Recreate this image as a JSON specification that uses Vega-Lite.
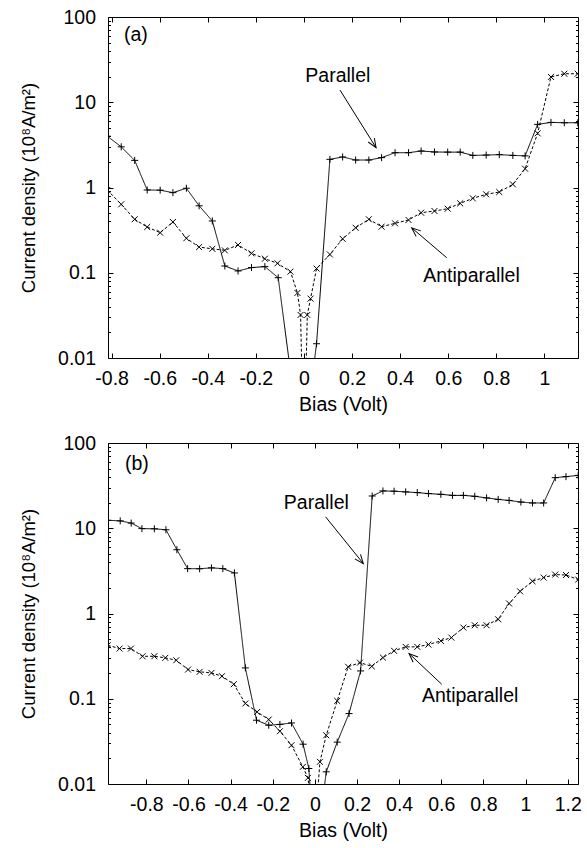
{
  "$schema": "https://vega.github.io/schema/vega-lite/v6.json",
  "padding": {"left": 19, "top": 6, "right": 5, "bottom": 5},
  "spacing": 17,
  "background": "white",
  "datasets": {
    "curves": [
      {"panel":"a","series":"Parallel","bias":-0.818,"J":4.0},
      {"panel":"a","series":"Parallel","bias":-0.76,"J":3.0},
      {"panel":"a","series":"Parallel","bias":-0.704,"J":2.08},
      {"panel":"a","series":"Parallel","bias":-0.652,"J":0.935},
      {"panel":"a","series":"Parallel","bias":-0.598,"J":0.93},
      {"panel":"a","series":"Parallel","bias":-0.545,"J":0.87},
      {"panel":"a","series":"Parallel","bias":-0.489,"J":0.98},
      {"panel":"a","series":"Parallel","bias":-0.436,"J":0.61},
      {"panel":"a","series":"Parallel","bias":-0.381,"J":0.405},
      {"panel":"a","series":"Parallel","bias":-0.329,"J":0.12},
      {"panel":"a","series":"Parallel","bias":-0.274,"J":0.105},
      {"panel":"a","series":"Parallel","bias":-0.218,"J":0.115},
      {"panel":"a","series":"Parallel","bias":-0.1625,"J":0.118},
      {"panel":"a","series":"Parallel","bias":-0.107,"J":0.0875},
      {"panel":"a","series":"Parallel","bias":-0.053,"J":0.006},
      {"panel":"a","series":"Parallel","bias":0.0,"J":0.001},
      {"panel":"a","series":"Parallel","bias":0.0525,"J":0.0147},
      {"panel":"a","series":"Parallel","bias":0.108,"J":2.14},
      {"panel":"a","series":"Parallel","bias":0.161,"J":2.28},
      {"panel":"a","series":"Parallel","bias":0.215,"J":2.1},
      {"panel":"a","series":"Parallel","bias":0.27,"J":2.1},
      {"panel":"a","series":"Parallel","bias":0.323,"J":2.24},
      {"panel":"a","series":"Parallel","bias":0.379,"J":2.56},
      {"panel":"a","series":"Parallel","bias":0.435,"J":2.56},
      {"panel":"a","series":"Parallel","bias":0.4875,"J":2.68},
      {"panel":"a","series":"Parallel","bias":0.543,"J":2.61},
      {"panel":"a","series":"Parallel","bias":0.598,"J":2.6},
      {"panel":"a","series":"Parallel","bias":0.65,"J":2.6},
      {"panel":"a","series":"Parallel","bias":0.7025,"J":2.38},
      {"panel":"a","series":"Parallel","bias":0.758,"J":2.4},
      {"panel":"a","series":"Parallel","bias":0.8125,"J":2.43},
      {"panel":"a","series":"Parallel","bias":0.869,"J":2.38},
      {"panel":"a","series":"Parallel","bias":0.92,"J":2.35},
      {"panel":"a","series":"Parallel","bias":0.972,"J":5.5},
      {"panel":"a","series":"Parallel","bias":1.0275,"J":5.8},
      {"panel":"a","series":"Parallel","bias":1.083,"J":5.75},
      {"panel":"a","series":"Parallel","bias":1.139,"J":5.75},
      {"panel":"a","series":"Antiparallel","bias":-0.818,"J":0.935},
      {"panel":"a","series":"Antiparallel","bias":-0.76,"J":0.635},
      {"panel":"a","series":"Antiparallel","bias":-0.704,"J":0.424},
      {"panel":"a","series":"Antiparallel","bias":-0.652,"J":0.344},
      {"panel":"a","series":"Antiparallel","bias":-0.598,"J":0.295},
      {"panel":"a","series":"Antiparallel","bias":-0.545,"J":0.394},
      {"panel":"a","series":"Antiparallel","bias":-0.489,"J":0.254},
      {"panel":"a","series":"Antiparallel","bias":-0.436,"J":0.2},
      {"panel":"a","series":"Antiparallel","bias":-0.381,"J":0.191},
      {"panel":"a","series":"Antiparallel","bias":-0.329,"J":0.183},
      {"panel":"a","series":"Antiparallel","bias":-0.274,"J":0.212},
      {"panel":"a","series":"Antiparallel","bias":-0.218,"J":0.169},
      {"panel":"a","series":"Antiparallel","bias":-0.1625,"J":0.146},
      {"panel":"a","series":"Antiparallel","bias":-0.11,"J":0.129},
      {"panel":"a","series":"Antiparallel","bias":-0.056,"J":0.103},
      {"panel":"a","series":"Antiparallel","bias":-0.027,"J":0.058},
      {"panel":"a","series":"Antiparallel","bias":-0.014,"J":0.032},
      {"panel":"a","series":"Antiparallel","bias":0.0,"J":0.0006},
      {"panel":"a","series":"Antiparallel","bias":0.014,"J":0.032},
      {"panel":"a","series":"Antiparallel","bias":0.0275,"J":0.0497},
      {"panel":"a","series":"Antiparallel","bias":0.0525,"J":0.112},
      {"panel":"a","series":"Antiparallel","bias":0.108,"J":0.164},
      {"panel":"a","series":"Antiparallel","bias":0.161,"J":0.25},
      {"panel":"a","series":"Antiparallel","bias":0.215,"J":0.337},
      {"panel":"a","series":"Antiparallel","bias":0.27,"J":0.424},
      {"panel":"a","series":"Antiparallel","bias":0.323,"J":0.347},
      {"panel":"a","series":"Antiparallel","bias":0.379,"J":0.38},
      {"panel":"a","series":"Antiparallel","bias":0.435,"J":0.416},
      {"panel":"a","series":"Antiparallel","bias":0.4875,"J":0.506},
      {"panel":"a","series":"Antiparallel","bias":0.543,"J":0.53},
      {"panel":"a","series":"Antiparallel","bias":0.598,"J":0.564},
      {"panel":"a","series":"Antiparallel","bias":0.65,"J":0.652},
      {"panel":"a","series":"Antiparallel","bias":0.7025,"J":0.746},
      {"panel":"a","series":"Antiparallel","bias":0.758,"J":0.832},
      {"panel":"a","series":"Antiparallel","bias":0.8125,"J":0.885},
      {"panel":"a","series":"Antiparallel","bias":0.869,"J":1.09},
      {"panel":"a","series":"Antiparallel","bias":0.92,"J":1.66},
      {"panel":"a","series":"Antiparallel","bias":0.972,"J":4.32},
      {"panel":"a","series":"Antiparallel","bias":1.0275,"J":19.8},
      {"panel":"a","series":"Antiparallel","bias":1.083,"J":21.6},
      {"panel":"a","series":"Antiparallel","bias":1.139,"J":21.6},
      {"panel":"b","series":"Parallel","bias":-0.983,"J":12.4},
      {"panel":"b","series":"Parallel","bias":-0.924,"J":12.2},
      {"panel":"b","series":"Parallel","bias":-0.872,"J":11.5},
      {"panel":"b","series":"Parallel","bias":-0.821,"J":9.9},
      {"panel":"b","series":"Parallel","bias":-0.762,"J":9.85},
      {"panel":"b","series":"Parallel","bias":-0.707,"J":9.6},
      {"panel":"b","series":"Parallel","bias":-0.655,"J":5.6},
      {"panel":"b","series":"Parallel","bias":-0.604,"J":3.36},
      {"panel":"b","series":"Parallel","bias":-0.547,"J":3.35},
      {"panel":"b","series":"Parallel","bias":-0.491,"J":3.43},
      {"panel":"b","series":"Parallel","bias":-0.437,"J":3.36},
      {"panel":"b","series":"Parallel","bias":-0.382,"J":2.99},
      {"panel":"b","series":"Parallel","bias":-0.33,"J":0.23},
      {"panel":"b","series":"Parallel","bias":-0.277,"J":0.056},
      {"panel":"b","series":"Parallel","bias":-0.219,"J":0.0489},
      {"panel":"b","series":"Parallel","bias":-0.166,"J":0.05},
      {"panel":"b","series":"Parallel","bias":-0.111,"J":0.052},
      {"panel":"b","series":"Parallel","bias":-0.056,"J":0.0293},
      {"panel":"b","series":"Parallel","bias":-0.0285,"J":0.0152},
      {"panel":"b","series":"Parallel","bias":0.0,"J":0.0012},
      {"panel":"b","series":"Parallel","bias":0.054,"J":0.0139},
      {"panel":"b","series":"Parallel","bias":0.106,"J":0.031},
      {"panel":"b","series":"Parallel","bias":0.162,"J":0.067},
      {"panel":"b","series":"Parallel","bias":0.217,"J":0.212},
      {"panel":"b","series":"Parallel","bias":0.272,"J":23.9},
      {"panel":"b","series":"Parallel","bias":0.323,"J":27.4},
      {"panel":"b","series":"Parallel","bias":0.376,"J":27.2},
      {"panel":"b","series":"Parallel","bias":0.431,"J":26.7},
      {"panel":"b","series":"Parallel","bias":0.486,"J":26.2},
      {"panel":"b","series":"Parallel","bias":0.539,"J":25.5},
      {"panel":"b","series":"Parallel","bias":0.598,"J":25.0},
      {"panel":"b","series":"Parallel","bias":0.653,"J":24.3},
      {"panel":"b","series":"Parallel","bias":0.705,"J":24.3},
      {"panel":"b","series":"Parallel","bias":0.759,"J":23.7},
      {"panel":"b","series":"Parallel","bias":0.815,"J":22.7},
      {"panel":"b","series":"Parallel","bias":0.87,"J":21.8},
      {"panel":"b","series":"Parallel","bias":0.922,"J":21.2},
      {"panel":"b","series":"Parallel","bias":0.978,"J":20.3},
      {"panel":"b","series":"Parallel","bias":1.033,"J":19.8},
      {"panel":"b","series":"Parallel","bias":1.086,"J":19.8},
      {"panel":"b","series":"Parallel","bias":1.141,"J":39.2},
      {"panel":"b","series":"Parallel","bias":1.192,"J":40.3},
      {"panel":"b","series":"Parallel","bias":1.25,"J":41.7},
      {"panel":"b","series":"Antiparallel","bias":-0.983,"J":0.424},
      {"panel":"b","series":"Antiparallel","bias":-0.927,"J":0.388},
      {"panel":"b","series":"Antiparallel","bias":-0.873,"J":0.388},
      {"panel":"b","series":"Antiparallel","bias":-0.818,"J":0.315},
      {"panel":"b","series":"Antiparallel","bias":-0.762,"J":0.315},
      {"panel":"b","series":"Antiparallel","bias":-0.71,"J":0.302},
      {"panel":"b","series":"Antiparallel","bias":-0.658,"J":0.283},
      {"panel":"b","series":"Antiparallel","bias":-0.602,"J":0.22},
      {"panel":"b","series":"Antiparallel","bias":-0.547,"J":0.207},
      {"panel":"b","series":"Antiparallel","bias":-0.491,"J":0.201},
      {"panel":"b","series":"Antiparallel","bias":-0.441,"J":0.184},
      {"panel":"b","series":"Antiparallel","bias":-0.385,"J":0.148},
      {"panel":"b","series":"Antiparallel","bias":-0.33,"J":0.088},
      {"panel":"b","series":"Antiparallel","bias":-0.274,"J":0.07},
      {"panel":"b","series":"Antiparallel","bias":-0.219,"J":0.057},
      {"panel":"b","series":"Antiparallel","bias":-0.166,"J":0.0416},
      {"panel":"b","series":"Antiparallel","bias":-0.111,"J":0.0285},
      {"panel":"b","series":"Antiparallel","bias":-0.057,"J":0.0159},
      {"panel":"b","series":"Antiparallel","bias":-0.033,"J":0.0118},
      {"panel":"b","series":"Antiparallel","bias":0.0,"J":0.003},
      {"panel":"b","series":"Antiparallel","bias":0.024,"J":0.0182},
      {"panel":"b","series":"Antiparallel","bias":0.054,"J":0.0373},
      {"panel":"b","series":"Antiparallel","bias":0.106,"J":0.0944},
      {"panel":"b","series":"Antiparallel","bias":0.158,"J":0.237},
      {"panel":"b","series":"Antiparallel","bias":0.214,"J":0.265},
      {"panel":"b","series":"Antiparallel","bias":0.27,"J":0.24},
      {"panel":"b","series":"Antiparallel","bias":0.323,"J":0.304},
      {"panel":"b","series":"Antiparallel","bias":0.376,"J":0.365},
      {"panel":"b","series":"Antiparallel","bias":0.431,"J":0.406},
      {"panel":"b","series":"Antiparallel","bias":0.486,"J":0.406},
      {"panel":"b","series":"Antiparallel","bias":0.539,"J":0.432},
      {"panel":"b","series":"Antiparallel","bias":0.598,"J":0.477},
      {"panel":"b","series":"Antiparallel","bias":0.648,"J":0.521},
      {"panel":"b","series":"Antiparallel","bias":0.705,"J":0.684},
      {"panel":"b","series":"Antiparallel","bias":0.759,"J":0.728},
      {"panel":"b","series":"Antiparallel","bias":0.815,"J":0.728},
      {"panel":"b","series":"Antiparallel","bias":0.87,"J":0.855},
      {"panel":"b","series":"Antiparallel","bias":0.922,"J":1.31},
      {"panel":"b","series":"Antiparallel","bias":0.974,"J":1.82},
      {"panel":"b","series":"Antiparallel","bias":1.033,"J":2.39},
      {"panel":"b","series":"Antiparallel","bias":1.086,"J":2.64},
      {"panel":"b","series":"Antiparallel","bias":1.141,"J":2.86},
      {"panel":"b","series":"Antiparallel","bias":1.192,"J":2.83},
      {"panel":"b","series":"Antiparallel","bias":1.25,"J":2.5}
    ],
    "notes": [
      {"panel":"a","text":"(a)","x":-0.699,"y":61.5},
      {"panel":"a","text":"Parallel","x":0.141,"y":20.3},
      {"panel":"a","text":"Antiparallel","x":0.697,"y":0.0916},
      {"panel":"b","text":"(b)","x":-0.845,"y":56.4},
      {"panel":"b","text":"Parallel","x":0.007,"y":19.95},
      {"panel":"b","text":"Antiparallel","x":0.737,"y":0.109}
    ],
    "arrows": [
      {"panel":"a","name":"Parallel","x":0.15,"y":13.9,"x2":0.3,"y2":2.93},
      {"panel":"a","name":"Antiparallel","x":0.594,"y":0.15,"x2":0.448,"y2":0.337},
      {"panel":"b","name":"Parallel","x":0.051,"y":13.6,"x2":0.23,"y2":3.85},
      {"panel":"b","name":"Antiparallel","x":0.602,"y":0.148,"x2":0.447,"y2":0.339}
    ]
  },
  "vconcat": [
    {
      "width": 470,
      "height": 341,
      "layer": [
        {
          "data": {"name": "curves"},
          "transform": [{"filter": "datum.panel == 'a'"}],
          "mark": {"type": "line", "clip": true, "color": "black", "strokeWidth": 1},
          "encoding": {
            "x": {"field": "bias", "type": "quantitative",
              "scale": {"domain": [-0.815, 1.14], "nice": false, "zero": false},
              "axis": {"orient": "bottom", "values": [-0.8,-0.6,-0.4,-0.2,0,0.2,0.4,0.6,0.8,1],
                "labelExpr": "toString(round(datum.value*10)/10)", "tickSize": -5, "labelPadding": 16,
                "title": "Bias (Volt)", "titlePadding": 8}},
            "y": {"field": "J", "type": "quantitative",
              "scale": {"type": "log", "domain": [0.01, 100], "nice": false},
              "axis": {"orient": "left",
                "values": [0.01,0.02,0.03,0.04,0.05,0.06,0.07,0.08,0.09,0.1,0.2,0.3,0.4,0.5,0.6,0.7,0.8,0.9,1,2,3,4,5,6,7,8,9,10,20,30,40,50,60,70,80,90,100],
                "labelExpr": "abs(log(datum.value)/LN10 - round(log(datum.value)/LN10)) < 0.001 ? toString(datum.value) : ''",
                "tickSize": {"condition": {"test": "abs(log(datum.value)/LN10 - round(log(datum.value)/LN10)) < 0.001", "value": -5}, "value": -2.5},
                "labelPadding": 17.5,
                "title": "Current density (10⁸A/m²)", "titleFontSize": 18.5, "titlePadding": 19}},
            "strokeDash": {"field": "series", "type": "nominal",
              "scale": {"domain": ["Parallel", "Antiparallel"], "range": [[1, 0], [3, 2]]}, "legend": null}
          }
        },
        {
          "data": {"name": "curves"},
          "transform": [{"filter": "datum.panel == 'a'"}],
          "mark": {"type": "point", "clip": true, "filled": false, "color": "black", "strokeWidth": 1, "size": 49, "opacity": 1},
          "encoding": {
            "x": {"field": "bias", "type": "quantitative",
              "axis": {"orient": "top", "values": [-0.8,-0.6,-0.4,-0.2,0,0.2,0.4,0.6,0.8,1], "labels": false, "tickSize": -5, "title": null}},
            "y": {"field": "J", "type": "quantitative",
              "axis": {"orient": "right",
                "values": [0.01,0.02,0.03,0.04,0.05,0.06,0.07,0.08,0.09,0.1,0.2,0.3,0.4,0.5,0.6,0.7,0.8,0.9,1,2,3,4,5,6,7,8,9,10,20,30,40,50,60,70,80,90,100],
                "labels": false,
                "tickSize": {"condition": {"test": "abs(log(datum.value)/LN10 - round(log(datum.value)/LN10)) < 0.001", "value": -5}, "value": -2.5},
                "title": null}},
            "shape": {"field": "series", "type": "nominal",
              "scale": {"domain": ["Parallel", "Antiparallel"], "range": ["M-1,0L1,0M0,-1L0,1", "M-0.85,-0.85L0.85,0.85M-0.85,0.85L0.85,-0.85"]}, "legend": null}
          }
        },
        {
          "data": {"name": "notes"},
          "transform": [{"filter": "datum.panel == 'a'"}],
          "mark": {"type": "text", "align": "center", "baseline": "middle", "font": "Liberation Sans", "fontSize": 19.5, "color": "black"},
          "encoding": {
            "x": {"field": "x", "type": "quantitative", "axis": null},
            "y": {"field": "y", "type": "quantitative", "axis": null},
            "text": {"field": "text"}
          }
        },
        {
          "data": {"name": "arrows"},
          "transform": [{"filter": "datum.panel == 'a'"}],
          "mark": {"type": "rule", "color": "black", "strokeWidth": 1},
          "encoding": {
            "x": {"field": "x", "type": "quantitative", "axis": null},
            "y": {"field": "y", "type": "quantitative", "axis": null},
            "x2": {"field": "x2"},
            "y2": {"field": "y2"}
          }
        },
        {
          "data": {"name": "arrows"},
          "transform": [{"filter": "datum.panel == 'a' && datum.name == 'Parallel'"}],
          "mark": {"type": "point", "shape": "M-1,-0.4L0,0L-1,0.4", "filled": false, "color": "black", "strokeWidth": 1, "size": 324, "opacity": 1, "angle": 58},
          "encoding": {
            "x": {"field": "x2", "type": "quantitative", "axis": null},
            "y": {"field": "y2", "type": "quantitative", "axis": null}
          }
        },
        {
          "data": {"name": "arrows"},
          "transform": [{"filter": "datum.panel == 'a' && datum.name == 'Antiparallel'"}],
          "mark": {"type": "point", "shape": "M-1,-0.4L0,0L-1,0.4", "filled": false, "color": "black", "strokeWidth": 1, "size": 324, "opacity": 1, "angle": 220.6},
          "encoding": {
            "x": {"field": "x2", "type": "quantitative", "axis": null},
            "y": {"field": "y2", "type": "quantitative", "axis": null}
          }
        }
      ],
      "resolve": {"axis": {"x": "independent", "y": "independent"}}
    },
    {
      "width": 470,
      "height": 341,
      "layer": [
        {
          "data": {"name": "curves"},
          "transform": [{"filter": "datum.panel == 'b'"}],
          "mark": {"type": "line", "clip": true, "color": "black", "strokeWidth": 1},
          "encoding": {
            "x": {"field": "bias", "type": "quantitative",
              "scale": {"domain": [-0.982, 1.249], "nice": false, "zero": false},
              "axis": {"orient": "bottom", "values": [-0.8,-0.6,-0.4,-0.2,0,0.2,0.4,0.6,0.8,1,1.2],
                "labelExpr": "toString(round(datum.value*10)/10)", "tickSize": -5, "labelPadding": 16,
                "title": "Bias (Volt)", "titlePadding": 8}},
            "y": {"field": "J", "type": "quantitative",
              "scale": {"type": "log", "domain": [0.01, 100], "nice": false},
              "axis": {"orient": "left",
                "values": [0.01,0.02,0.03,0.04,0.05,0.06,0.07,0.08,0.09,0.1,0.2,0.3,0.4,0.5,0.6,0.7,0.8,0.9,1,2,3,4,5,6,7,8,9,10,20,30,40,50,60,70,80,90,100],
                "labelExpr": "abs(log(datum.value)/LN10 - round(log(datum.value)/LN10)) < 0.001 ? toString(datum.value) : ''",
                "tickSize": {"condition": {"test": "abs(log(datum.value)/LN10 - round(log(datum.value)/LN10)) < 0.001", "value": -5}, "value": -2.5},
                "labelPadding": 17.5,
                "title": "Current density (10⁸A/m²)", "titleFontSize": 18.5, "titlePadding": 19}},
            "strokeDash": {"field": "series", "type": "nominal",
              "scale": {"domain": ["Parallel", "Antiparallel"], "range": [[1, 0], [3, 2]]}, "legend": null}
          }
        },
        {
          "data": {"name": "curves"},
          "transform": [{"filter": "datum.panel == 'b'"}],
          "mark": {"type": "point", "clip": true, "filled": false, "color": "black", "strokeWidth": 1, "size": 49, "opacity": 1},
          "encoding": {
            "x": {"field": "bias", "type": "quantitative",
              "axis": {"orient": "top", "values": [-0.8,-0.6,-0.4,-0.2,0,0.2,0.4,0.6,0.8,1,1.2], "labels": false, "tickSize": -5, "title": null}},
            "y": {"field": "J", "type": "quantitative",
              "axis": {"orient": "right",
                "values": [0.01,0.02,0.03,0.04,0.05,0.06,0.07,0.08,0.09,0.1,0.2,0.3,0.4,0.5,0.6,0.7,0.8,0.9,1,2,3,4,5,6,7,8,9,10,20,30,40,50,60,70,80,90,100],
                "labels": false,
                "tickSize": {"condition": {"test": "abs(log(datum.value)/LN10 - round(log(datum.value)/LN10)) < 0.001", "value": -5}, "value": -2.5},
                "title": null}},
            "shape": {"field": "series", "type": "nominal",
              "scale": {"domain": ["Parallel", "Antiparallel"], "range": ["M-1,0L1,0M0,-1L0,1", "M-0.85,-0.85L0.85,0.85M-0.85,0.85L0.85,-0.85"]}, "legend": null}
          }
        },
        {
          "data": {"name": "notes"},
          "transform": [{"filter": "datum.panel == 'b'"}],
          "mark": {"type": "text", "align": "center", "baseline": "middle", "font": "Liberation Sans", "fontSize": 19.5, "color": "black"},
          "encoding": {
            "x": {"field": "x", "type": "quantitative", "axis": null},
            "y": {"field": "y", "type": "quantitative", "axis": null},
            "text": {"field": "text"}
          }
        },
        {
          "data": {"name": "arrows"},
          "transform": [{"filter": "datum.panel == 'b'"}],
          "mark": {"type": "rule", "color": "black", "strokeWidth": 1},
          "encoding": {
            "x": {"field": "x", "type": "quantitative", "axis": null},
            "y": {"field": "y", "type": "quantitative", "axis": null},
            "x2": {"field": "x2"},
            "y2": {"field": "y2"}
          }
        },
        {
          "data": {"name": "arrows"},
          "transform": [{"filter": "datum.panel == 'b' && datum.name == 'Parallel'"}],
          "mark": {"type": "point", "shape": "M-1,-0.4L0,0L-1,0.4", "filled": false, "color": "black", "strokeWidth": 1, "size": 324, "opacity": 1, "angle": 51.2},
          "encoding": {
            "x": {"field": "x2", "type": "quantitative", "axis": null},
            "y": {"field": "y2", "type": "quantitative", "axis": null}
          }
        },
        {
          "data": {"name": "arrows"},
          "transform": [{"filter": "datum.panel == 'b' && datum.name == 'Antiparallel'"}],
          "mark": {"type": "point", "shape": "M-1,-0.4L0,0L-1,0.4", "filled": false, "color": "black", "strokeWidth": 1, "size": 324, "opacity": 1, "angle": 223.2},
          "encoding": {
            "x": {"field": "x2", "type": "quantitative", "axis": null},
            "y": {"field": "y2", "type": "quantitative", "axis": null}
          }
        }
      ],
      "resolve": {"axis": {"x": "independent", "y": "independent"}}
    }
  ],
  "config": {
    "view": {"stroke": "black", "strokeWidth": 1},
    "axis": {
      "domain": false, "grid": false,
      "labelFont": "Liberation Sans", "labelFontSize": 19.5, "labelColor": "black",
      "titleFont": "Liberation Sans", "titleFontSize": 19.5, "titleFontWeight": "normal", "titleColor": "black",
      "tickColor": "black", "tickWidth": 1,
      "labelFlush": false, "labelOverlap": false
    },
    "text": {"font": "Liberation Sans"}
  }
}
